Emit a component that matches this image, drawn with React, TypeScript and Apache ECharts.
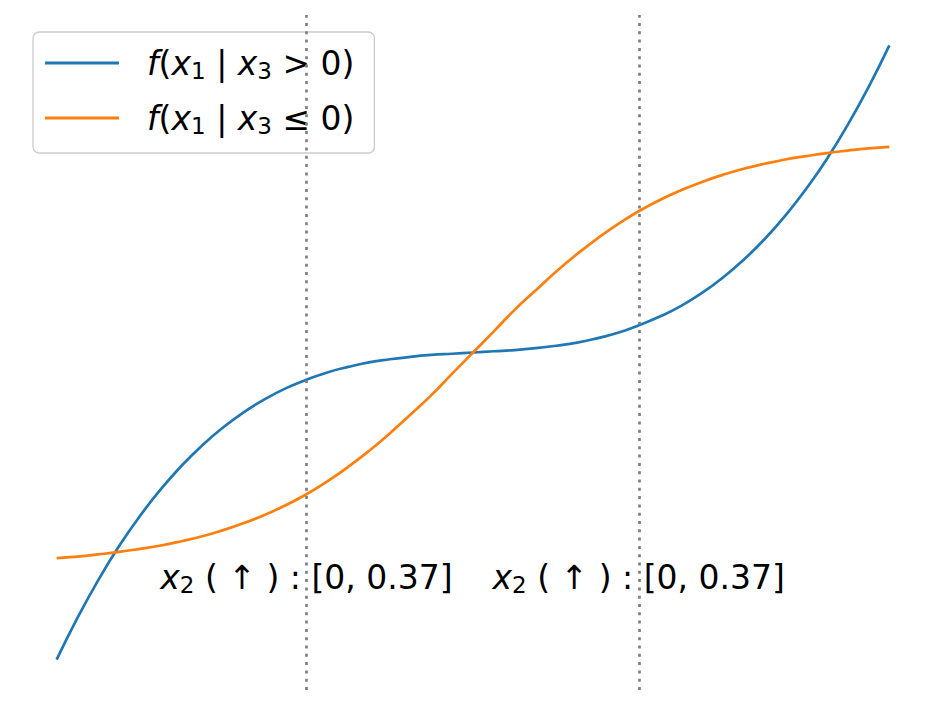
import { useEffect, useRef } from "react";
import * as echarts from "echarts";

// sample positions along x (hidden axis, -1 .. 1)
const xValues = [
  -1, -0.95, -0.9, -0.85, -0.8, -0.75, -0.7, -0.65, -0.6, -0.55, -0.5,
  -0.45, -0.4, -0.35, -0.3, -0.25, -0.2, -0.15, -0.1, -0.05, 0,
  0.05, 0.1, 0.15, 0.2, 0.25, 0.3, 0.35, 0.4, 0.45, 0.5,
  0.55, 0.6, 0.65, 0.7, 0.75, 0.8, 0.85, 0.9, 0.95, 1,
];

// f(x1 | x3 > 0)
const positiveValues = [
  -1.001, -0.865, -0.742, -0.631, -0.533, -0.446, -0.369, -0.302, -0.244, -0.194, -0.152,
  -0.117, -0.089, -0.065, -0.047, -0.032, -0.022, -0.014, -0.008, -0.004, 0,
  0.004, 0.008, 0.014, 0.022, 0.032, 0.047, 0.065, 0.09, 0.118, 0.152,
  0.194, 0.244, 0.302, 0.369, 0.446, 0.533, 0.631, 0.742, 0.865, 1.001,
];

// f(x1 | x3 <= 0)
const nonPositiveValues = [
  -0.67, -0.665, -0.658, -0.65, -0.64, -0.629, -0.615, -0.599, -0.579, -0.556, -0.529,
  -0.498, -0.462, -0.42, -0.373, -0.321, -0.264, -0.202, -0.139, -0.069, 0,
  0.069, 0.139, 0.202, 0.264, 0.321, 0.373, 0.42, 0.462, 0.498, 0.529,
  0.556, 0.579, 0.599, 0.615, 0.629, 0.64, 0.65, 0.658, 0.665, 0.67,
];

const splitPositions = [-0.4, 0.398];
const splitRanges = ["[0, 0.37]", "[0, 0.37]"];
const splitLabelLevel = -0.732;

const seriesNames = ["pos", "nonpos"];
const seriesColors = ["#1f77b4", "#ff7f0e"];
const legendTexts: Record<string, string> = {
  pos: "{gap| }{it|f}{n|(}{it|x}{sub|1}{n| | }{it|x}{sub|3}{n| > 0)}",
  nonpos: "{gap| }{it|f}{n|(}{it|x}{sub|1}{n| | }{it|x}{sub|3}{n| ≤ 0)}",
};

const FONT = "DejaVu Sans";

const richStyles = {
  gap: { width: 23, fontSize: 33, fontFamily: FONT, lineHeight: 42 },
  n: { fontSize: 33, fontFamily: FONT, color: "#000", lineHeight: 42 },
  it: { fontSize: 33, fontFamily: FONT, fontStyle: "italic", color: "#000", lineHeight: 42 },
  sub: { fontSize: 23, fontFamily: FONT, color: "#000", lineHeight: 42, padding: [16, 0, 0, 0] },
};

export default function App() {
  const chartDiv = useRef<HTMLDivElement>(null);

  useEffect(() => {
    if (!chartDiv.current) return;
    const chart = echarts.init(chartDiv.current, undefined, { renderer: "svg" });

    chart.setOption({
      animation: false,
      backgroundColor: "#ffffff",
      grid: { left: 15, right: 15, top: 15, bottom: 15 },
      xAxis: { type: "value", min: -1.1, max: 1.1, show: false },
      yAxis: { type: "value", min: -1.1, max: 1.1, show: false },
      legend: {
        data: seriesNames,
        orient: "vertical",
        left: 33,
        top: 32,
        icon: "rect",
        itemWidth: 74,
        itemHeight: 3,
        itemGap: 13,
        padding: [10, 20, 14, 12],
        borderColor: "#cccccc",
        borderWidth: 1.3,
        borderRadius: 6,
        backgroundColor: "rgba(255,255,255,0.8)",
        formatter: (name: string) => legendTexts[name],
        textStyle: { fontSize: 33, fontFamily: FONT, lineHeight: 42, rich: richStyles },
      },
      series: [
        {
          name: "splits",
          type: "line",
          data: [],
          z: 1,
          silent: true,
          markLine: {
            silent: true,
            symbol: "none",
            label: { show: false },
            lineStyle: { color: "#7f7f7f", width: 2.7, type: [3, 5.3] },
            data: splitPositions.map((x) => ({ xAxis: x })),
          },
          markPoint: {
            silent: true,
            symbol: "rect",
            symbolSize: 1,
            itemStyle: { color: "rgba(0,0,0,0)" },
            label: {
              show: true,
              position: "inside",
              formatter: (p: { dataIndex: number }) =>
                `{it|x}{sub|2}{n| ( ↑ ) : ${splitRanges[p.dataIndex]}}`,
              rich: richStyles,
            },
            data: splitPositions.map((x) => ({ coord: [x, splitLabelLevel] })),
          },
        },
        ...[positiveValues, nonPositiveValues].map((values, i) => ({
          name: seriesNames[i],
          type: "line",
          z: 2,
          smooth: 0.5,
          showSymbol: false,
          symbol: "none",
          color: seriesColors[i],
          lineStyle: { color: seriesColors[i], width: 2.7 },
          data: xValues.map((x, k) => [x, values[k]]),
        })),
      ],
    });

    return () => chart.dispose();
  }, []);

  return (
    <div
      ref={chartDiv}
      style={{ position: "absolute", left: 0, top: 0, width: 946, height: 705 }}
    />
  );
}
